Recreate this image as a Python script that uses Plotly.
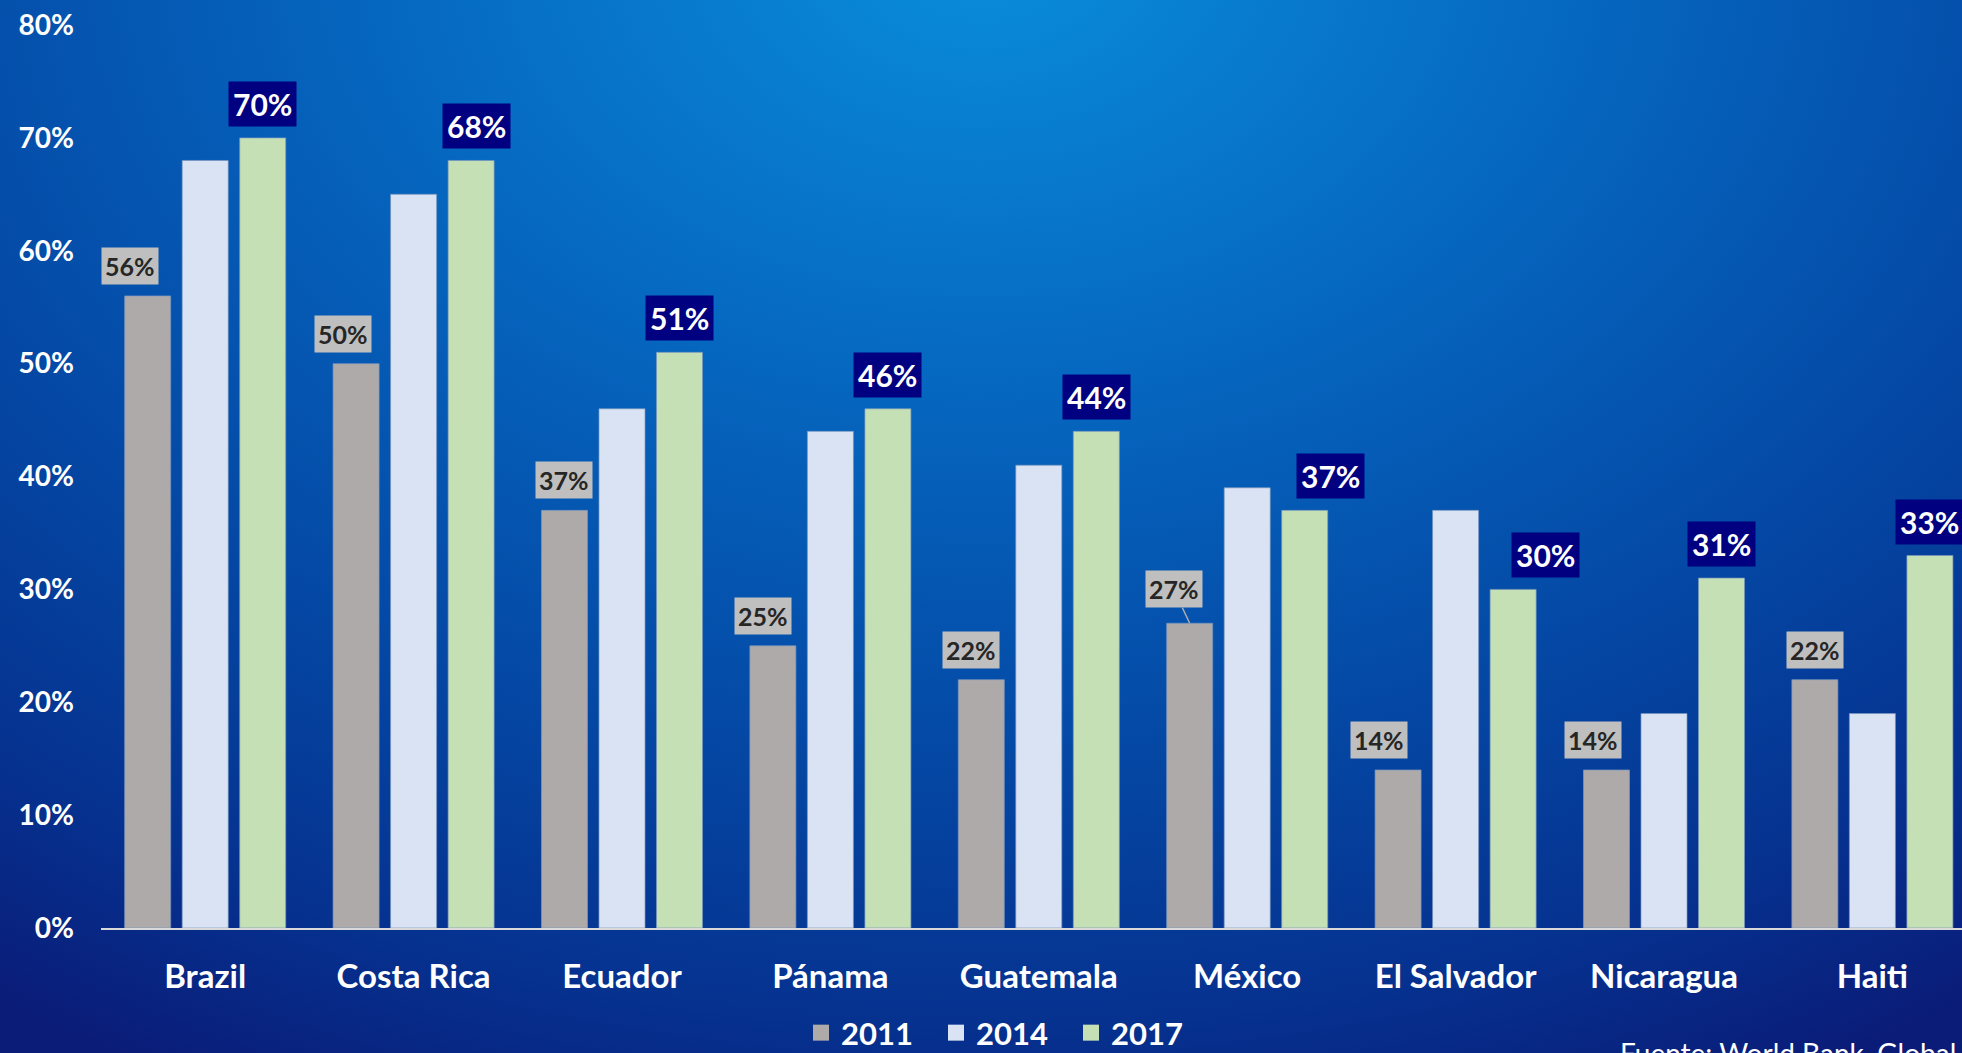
import base64
import plotly.graph_objects as go

countries = ["Brazil", "Costa Rica", "Ecuador", "Pánama", "Guatemala",
             "México", "El Salvador", "Nicaragua", "Haiti"]
years = ["2011", "2014", "2017"]
v2011 = [56, 50, 37, 25, 22, 27, 14, 14, 22]
v2014 = [68, 65, 46, 44, 41, 39, 37, 19, 19]
v2017 = [70, 68, 51, 46, 44, 37, 30, 31, 33]
y_ticks = [0, 10, 20, 30, 40, 50, 60, 70, 80]
source_text = "Fuente: World Bank, Global Findex Database"

# manual label nudges (pixels), as placed in the original chart
shift_2011 = [-18, -13, 0, -10, -10, -16, -19, -13, 0]
shift_2017 = [0, 5, 0, 0, 0, 26, 32, 0, 0]

bar_colors = ["#AEAAAA", "#DAE3F3", "#C5E0B4"]
FONT = "Lato"

W, H = 1962, 1053
x_left_px = 101
cat_px = 208.4
x_max = -0.5 + (W - x_left_px) / cat_px
y0_px, y80_px = 928, 25

# background gradient as an SVG image
svg = f"""<svg xmlns='http://www.w3.org/2000/svg' width='{W}' height='{H}' preserveAspectRatio='none'>
<defs><radialGradient id='g' cx='0.5' cy='-0.05' r='1.05' gradientTransform='translate(0.5,-0.05) scale(0.85,1.15) translate(-0.5,0.05)'>
<stop offset='0' stop-color='#0A8EDC'/>
<stop offset='0.3' stop-color='#066CC4'/>
<stop offset='0.6' stop-color='#044CA8'/>
<stop offset='0.85' stop-color='#06318F'/>
<stop offset='1' stop-color='#0A1C78'/>
</radialGradient></defs>
<rect width='{W}' height='{H}' fill='url(#g)'/></svg>"""
bg_uri = "data:image/svg+xml;base64," + base64.b64encode(svg.encode()).decode()

xs = list(range(len(countries)))
fig = go.Figure()
for name, vals, col in zip(years, [v2011, v2014, v2017], bar_colors):
    fig.add_trace(go.Bar(
        x=xs, y=vals, name=name, legendgroup=name, showlegend=False,
        marker=dict(color=col, line=dict(color="rgba(120,150,190,0.7)", width=1)),
        hoverinfo="skip",
    ))
# legend entries with larger square swatches
for name, col in zip(years, bar_colors):
    fig.add_trace(go.Scatter(
        x=[None], y=[None], mode="markers", name=name, legendgroup=name,
        marker=dict(symbol="square", size=16, color=col), showlegend=True,
    ))

bargap = 0.172
slot = (1 - bargap) / 3

annotations = []
for i, v in enumerate(v2011):
    if countries[i] == "México":
        annotations.append(dict(
            x=i - slot, y=v, xref="x", yref="y", text=f"{v}%",
            showarrow=True, arrowhead=0, arrowwidth=1.5, arrowcolor="#AFAFAF",
            ax=shift_2011[i], ay=-34, bgcolor="#BFBFBF", borderpad=3,
            font=dict(family=FONT, size=25, color="#262626", weight="bold"),
        ))
    else:
        annotations.append(dict(
            x=i - slot, y=v, xref="x", yref="y", text=f"{v}%",
            showarrow=False, yanchor="bottom", yshift=11, xshift=shift_2011[i],
            bgcolor="#BFBFBF", borderpad=3,
            font=dict(family=FONT, size=25, color="#262626", weight="bold"),
        ))
for i, v in enumerate(v2017):
    annotations.append(dict(
        x=i + slot, y=v, xref="x", yref="y", text=f"{v}%",
        showarrow=False, yanchor="bottom", yshift=11, xshift=shift_2017[i],
        bgcolor="#000080", borderpad=4,
        font=dict(family=FONT, size=30, color="white", weight="bold"),
    ))
annotations.append(dict(
    x=1618 / W, y=1 - 1034 / H, xref="paper", yref="paper",
    xanchor="left", yanchor="top", showarrow=False, text=source_text,
    font=dict(family=FONT, size=28, color="white"),
))

fig.update_layout(
    width=W, height=H, autosize=False,
    margin=dict(l=0, r=0, t=0, b=0, autoexpand=False),
    paper_bgcolor="#0A1C78", plot_bgcolor="rgba(0,0,0,0)",
    barmode="group", bargap=bargap, bargroupgap=0.2,
    font=dict(family=FONT, color="white"),
    images=[dict(source=bg_uri, xref="paper", yref="paper", x=0, y=1,
                 sizex=1, sizey=1, sizing="stretch", layer="below",
                 xanchor="left", yanchor="top")],
    xaxis=dict(
        domain=[x_left_px / W, 1], range=[-0.5, x_max],
        tickvals=xs, ticktext=countries, showgrid=False, zeroline=False,
        showline=True, linecolor="#D9D9D9", linewidth=2, ticks="",
        ticklabelstandoff=18, automargin=False,
        tickfont=dict(family=FONT, size=33, color="white", weight="bold"),
    ),
    yaxis=dict(
        domain=[(H - y0_px) / H, (H - y80_px) / H], range=[0, 80],
        tickvals=y_ticks, ticktext=[f"{t}%" for t in y_ticks],
        showgrid=False, zeroline=False, showline=False, ticks="",
        ticklabelstandoff=26, automargin=False,
        tickfont=dict(family=FONT, size=28, color="white", weight="bold"),
    ),
    legend=dict(
        orientation="h", x=801 / W, xanchor="left", y=1 - 1033 / H, yanchor="middle",
        font=dict(family=FONT, size=31, color="white", weight="bold"),
        bgcolor="rgba(0,0,0,0)", entrywidth=90, itemclick=False,
        itemdoubleclick=False,
    ),
    annotations=annotations,
    showlegend=True,
)

fig.write_html(
    "out.html",
    config={"responsive": False, "displayModeBar": False, "staticPlot": True},
    post_script="document.body.style.margin='0';document.body.style.overflow='hidden';"
                "document.body.style.background='#0A1C78';",
)
